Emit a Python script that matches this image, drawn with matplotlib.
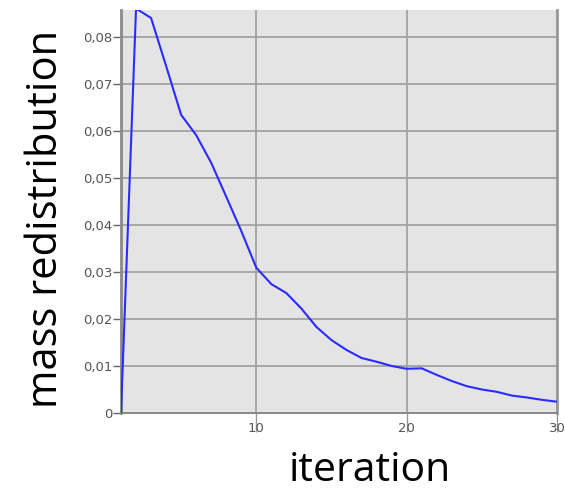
import matplotlib
matplotlib.use("Agg")
import matplotlib.pyplot as plt
from matplotlib.ticker import FuncFormatter

# Mass redistribution per iteration
iterations = list(range(1, 31))
mass_redistribution = [
    0.0, 0.0860, 0.0840, 0.0738, 0.0634, 0.0591, 0.0532, 0.0460, 0.0387, 0.0309,
    0.0274, 0.0255, 0.0222, 0.0183, 0.0155, 0.0134, 0.0117, 0.0109, 0.0100, 0.0094,
    0.0095, 0.0081, 0.0068, 0.0057, 0.0050, 0.0045, 0.0037, 0.0033, 0.0028, 0.0024,
]
y_ticks = [0, 0.01, 0.02, 0.03, 0.04, 0.05, 0.06, 0.07, 0.08]
x_ticks = [10, 20, 30]

fig = plt.figure(figsize=(5.65, 4.91), dpi=100)
ax = fig.add_axes([121 / 565, 1 - 413 / 491, (557 - 121) / 565, (413 - 10) / 491])

ax.set_facecolor("#e4e4e4")
ax.plot(iterations, mass_redistribution, color="#2b2bff", linewidth=1.5,
        solid_joinstyle="round", zorder=3, clip_on=True)

ax.set_xlim(1, 30)
ax.set_ylim(0, 0.0857)
ax.set_xticks(x_ticks)
ax.set_yticks(y_ticks)
ax.yaxis.set_major_formatter(FuncFormatter(
    lambda v, _: "0" if v == 0 else f"{v:.2f}".replace(".", ",")))

ax.grid(True, color="#a2a2a2", linewidth=1.3, zorder=1)
ax.set_axisbelow(True)

ax.spines["top"].set_visible(False)
ax.spines["right"].set_color("#999999")
ax.spines["right"].set_linewidth(2.0)
ax.spines["left"].set_color("#8a8a8a")
ax.spines["left"].set_linewidth(2.0)
ax.spines["bottom"].set_color("#8a8a8a")
ax.spines["bottom"].set_linewidth(1.4)

ax.tick_params(axis="y", length=6, width=1.0, color="#666666", pad=0,
               labelsize=9.5, labelcolor="#555555")
ax.tick_params(axis="x", length=14, width=1.0, color="#999999", pad=-7.5,
               labelsize=9.5, labelcolor="#555555")

fig.text(370 / 565, 1 - 481 / 491, "iteration", family="Open Sans",
         fontsize=29.5, ha="center", va="baseline", color="black")
fig.text(46 / 565, 1 - 219 / 491, "mass redistribution", family="Open Sans",
         fontsize=30, ha="center", va="center", rotation=90, color="black")

fig.savefig("out.png", dpi=100)
